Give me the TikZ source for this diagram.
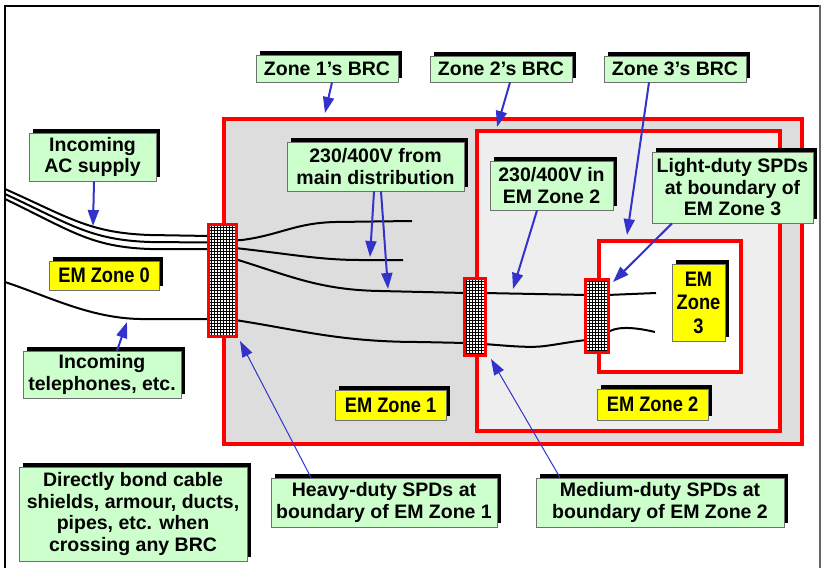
\documentclass[tikz,border=0pt]{standalone}
\usepackage{fontspec}
\setmainfont{Liberation Sans}
\newfontfamily\narrowfont{Liberation Sans}[FakeStretch=0.87]
\usetikzlibrary{arrows.meta,shadows,patterns}

\pgfdeclarepatternformonly{spdgrid}{\pgfqpoint{-0.5pt}{-0.5pt}}{\pgfqpoint{3.5pt}{3.5pt}}{\pgfqpoint{3pt}{3pt}}{%
  \pgfsetlinewidth{0.9pt}%
  \pgfpathmoveto{\pgfqpoint{-0.5pt}{1.5pt}}\pgfpathlineto{\pgfqpoint{3.5pt}{1.5pt}}%
  \pgfpathmoveto{\pgfqpoint{1.5pt}{-0.5pt}}\pgfpathlineto{\pgfqpoint{1.5pt}{3.5pt}}%
  \pgfusepath{stroke}}

\definecolor{lblgreen}{HTML}{CCFFCC}
\definecolor{lblyellow}{HTML}{FFFF00}
\definecolor{zoneA}{HTML}{DDDDDD}
\definecolor{zoneB}{HTML}{EEEEEE}
\definecolor{arrblue}{HTML}{3333CC}
\definecolor{zred}{HTML}{FF0000}
\definecolor{lblborder}{HTML}{707070}

\tikzset{
  lbl/.style={draw=lblborder, line width=0.8pt, inner sep=0pt, align=center,
    font=\bfseries\fontsize{19.5}{21.5}\selectfont,
    drop shadow={shadow xshift=4pt, shadow yshift=4pt, opacity=1, fill=black}},
  greenlbl/.style={lbl, fill=lblgreen},
  yellowlbl/.style={lbl, fill=lblyellow, font=\narrowfont\bfseries\fontsize{21}{23.5}\selectfont},
  zonebox/.style={draw=zred, line width=4pt, inner sep=0pt},
  spdbox/.style={draw=zred, line width=3pt, inner sep=0pt, preaction={fill=white}, pattern=spdgrid, pattern color=black},
  cable/.style={black, line width=2pt},
  ptr/.style={arrblue, line width=2pt, -{Triangle[length=16pt,width=11pt]}},
  thinptr/.style={ptr, line width=1pt}
}

\begin{document}
\begin{tikzpicture}[x=1pt,y=-1pt]
\useasboundingbox (0,0) rectangle (824,568);
\fill[white] (0,0) rectangle (824,568);
% outer frame
\draw[black, line width=1.5pt] (5,568) -- (5,6) -- (820,6);
\draw[black!60, line width=2pt] (820,5) -- (820,568);

% zones
\node[zonebox, fill=zoneA, minimum width=578, minimum height=325] (zone1) at (513,281.5) {};
\node[zonebox, fill=zoneB, minimum width=303, minimum height=300] (zone2) at (628.5,281) {};
\node[zonebox, fill=white, minimum width=142, minimum height=131] (zone3) at (670,306.5) {};

% cables
\draw[cable] (5,189) .. controls (70,218) and (90,233) .. (150,235) -- (210,236);
\draw[cable] (5,194) .. controls (70,224) and (90,240) .. (150,242) -- (210,242.5);
\draw[cable] (5,199) .. controls (70,230) and (90,247) .. (150,249) -- (210,249);
\draw[cable] (5,282) .. controls (50,297) and (90,318) .. (140,319) -- (210,319);
\draw[cable] (235,240) -- (242,240) .. controls (280,235) and (295,223) .. (335,222) -- (412,221);
\draw[cable] (235,248) .. controls (290,254) and (320,260) .. (360,260) -- (403,260);
\draw[cable] (235,259) .. controls (290,276) and (320,290) .. (380,291) -- (466,293);
\draw[cable] (484,293) -- (587,295);
\draw[cable] (607,295) -- (656,293);
\draw[cable] (235,320) .. controls (300,330) and (340,342) .. (420,342) -- (466,343);
\draw[cable] (484,344) .. controls (510,346) and (530,348) .. (545,346) .. controls (560,344) and (575,341) .. (587,340);
\draw[cable] (607,333) .. controls (614,327) and (630,326) .. (655,332);

% SPD blocks
\node[spdbox, minimum width=28, minimum height=112] (spd1) at (222.5,280.5) {};
\node[spdbox, minimum width=21, minimum height=77] (spd2) at (475,317) {};
\node[spdbox, minimum width=23, minimum height=73] (spd3) at (597,316) {};

% green labels
\node[greenlbl, minimum width=142, minimum height=27] (z1brc) at (327,68.5) {Zone 1’s BRC};
\node[greenlbl, minimum width=142, minimum height=26] (z2brc) at (501,69) {Zone 2’s BRC};
\node[greenlbl, minimum width=142, minimum height=26] (z3brc) at (675,69) {Zone 3’s BRC};
\node[greenlbl, minimum width=127, minimum height=48] (acsup) at (92.5,157) {Incoming\\AC supply};
\node[greenlbl, minimum width=177, minimum height=49] (mains) at (375.5,166.5) {230/400V from\\main distribution};
\node[greenlbl, minimum width=123, minimum height=49] (z2v) at (551.5,185.5) {230/400V in\\EM Zone 2};
\node[greenlbl, minimum width=161, minimum height=71] (light) at (732.5,187.5) {Light-duty SPDs\\at boundary of\\EM Zone 3};
\node[greenlbl, minimum width=158, minimum height=47] (tel) at (102,374.5) {Incoming\\telephones, etc.};
\node[greenlbl, minimum width=228, minimum height=94] (bond) at (133,514) {Directly bond cable\\shields, armour, ducts,\\pipes, etc. when\\crossing any BRC};
\node[greenlbl, minimum width=226, minimum height=49] (heavy) at (384,502.5) {Heavy-duty SPDs at\\boundary of EM Zone 1};
\node[greenlbl, minimum width=248, minimum height=49] (medium) at (660,502.5) {Medium-duty SPDs at\\boundary of EM Zone 2};

% yellow labels
\node[yellowlbl, minimum width=110, minimum height=29] (em0) at (104,275.5) {EM Zone 0};
\node[yellowlbl, minimum width=111, minimum height=30] (em1) at (390.5,405) {EM Zone 1};
\node[yellowlbl, minimum width=111, minimum height=31] (em2) at (652.5,404.5) {EM Zone 2};
\node[yellowlbl, minimum width=53, minimum height=77] (em3) at (698.5,302.5) {EM\\Zone\\3};

% arrow targets
\coordinate (t1) at (325,113);
\coordinate (t2) at (497,127);
\coordinate (t3) at (627,235);
\coordinate (t4) at (513,289);
\coordinate (t5) at (613,282);
\coordinate (t6) at (370,257);
\coordinate (t7) at (388,289);
\coordinate (t8) at (93,226);
\coordinate (t9) at (127,322);
\coordinate (t10) at (240,341);
\coordinate (t11) at (491,359);

% pointers
\draw[ptr] ([xshift=5pt]z1brc.south) -- (t1);
\draw[ptr] ([xshift=9pt]z2brc.south) -- (t2);
\draw[ptr] ([xshift=-26pt]z3brc.south) -- (t3);
\draw[ptr] ([xshift=-14.5pt]z2v.south) -- (t4);
\draw[ptr] ([xshift=-60.5pt]light.south) -- (t5);
\draw[ptr] ([xshift=-1.5pt]mains.south) -- (t6);
\draw[ptr] ([xshift=5.5pt]mains.south) -- (t7);
\draw[ptr] ([xshift=1.5pt]acsup.south) -- (t8);
\draw[ptr] ([xshift=15pt]tel.north) -- (t9);
\draw[thinptr] ([xshift=-73pt]heavy.north) -- (t10);
\draw[thinptr] ([xshift=-100pt]medium.north) -- (t11);
\end{tikzpicture}
\end{document}
